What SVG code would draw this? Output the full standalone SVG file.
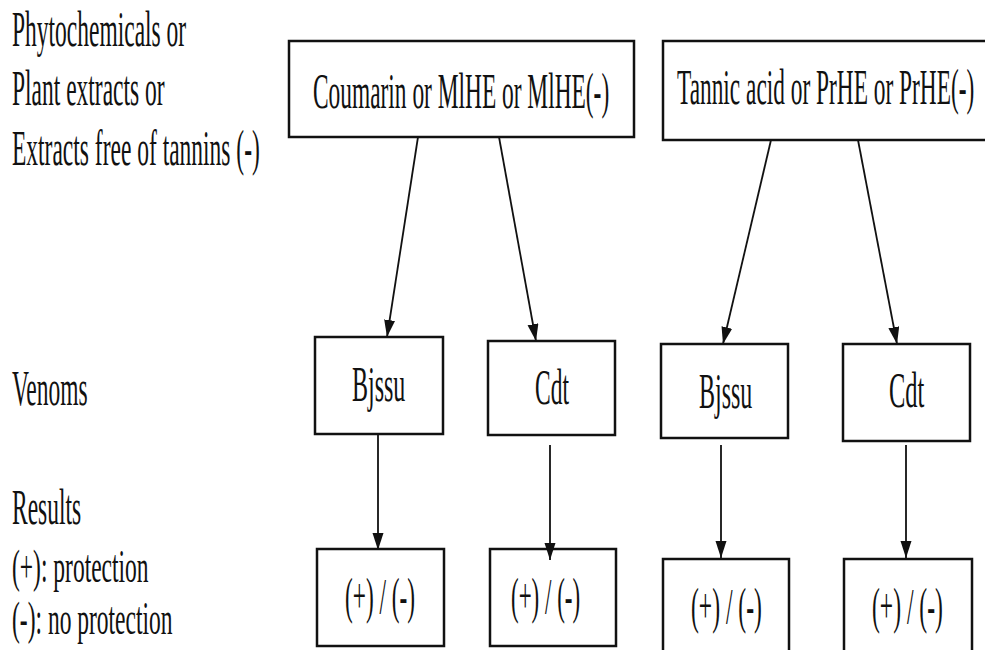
<svg xmlns="http://www.w3.org/2000/svg" width="985" height="650" viewBox="0 0 985 650">
<defs>
<style>
text{font-family:"Liberation Serif","Times New Roman",serif;font-size:50px;fill:#111;}
.box{fill:#fff;stroke:#111;stroke-width:2.5;}
.conn line{stroke:#111;stroke-width:1.8;marker-end:url(#ah);}
</style>
<marker id="ah" markerUnits="userSpaceOnUse" markerWidth="20" markerHeight="12" refX="17" refY="5.5" orient="auto">
<path d="M0,0 L17,5.5 L0,11 z" fill="#111"/>
</marker>
</defs>
<rect width="985" height="650" fill="#fff"/>
<g id="label-top">
<text transform="translate(12,46) scale(0.47,1)"><tspan x="0" y="0">Phytochemicals or</tspan><tspan x="0" y="59">Plant extracts or</tspan><tspan x="0" y="119">Extracts free of tannins (-)</tspan></text>
</g>
<g id="label-venoms">
<text transform="translate(12,405) scale(0.47,1)">Venoms</text>
</g>
<g id="label-results">
<text transform="translate(12,524) scale(0.47,1)">Results</text>
<text transform="translate(12,582) scale(0.511,1)" style="font-size:46px">(+): protection</text>
<text transform="translate(12,634) scale(0.511,1)" style="font-size:46px">(-): no protection</text>
</g>
<g id="node-coumarin">
<rect class="box" x="289" y="41" width="345" height="96"/>
<text transform="translate(313,108) scale(0.468,1)">Coumarin or MlHE or MlHE(-)</text>
</g>
<g id="node-tannic">
<rect class="box" x="663" y="41" width="340" height="99"/>
<text transform="translate(677,104) scale(0.467,1)">Tannic acid or PrHE or PrHE(-)</text>
</g>
<g id="node-bjssu1">
<rect class="box" x="315" y="337" width="128" height="97"/>
<text transform="translate(352,401) scale(0.48,1)">Bjssu</text>
</g>
<g id="node-cdt1">
<rect class="box" x="488" y="341" width="127" height="94"/>
<text transform="translate(535,404) scale(0.47,1)">Cdt</text>
</g>
<g id="node-bjssu2">
<rect class="box" x="661" y="344" width="127" height="94"/>
<text transform="translate(699,408) scale(0.48,1)">Bjssu</text>
</g>
<g id="node-cdt2">
<rect class="box" x="843" y="344" width="127" height="97"/>
<text transform="translate(889,407) scale(0.49,1)">Cdt</text>
</g>
<g id="node-res1">
<rect class="box" x="317" y="549" width="127" height="97"/>
<text transform="translate(345,613) scale(0.466,1)">(+) / (-)</text>
</g>
<g id="node-res2">
<rect class="box" x="490" y="549" width="126" height="97"/>
<text transform="translate(511,613) scale(0.46,1)">(+) / (-)</text>
</g>
<g id="node-res3">
<rect class="box" x="663" y="559" width="126" height="100"/>
<text transform="translate(691,623) scale(0.472,1)">(+) / (-)</text>
</g>
<g id="node-res4">
<rect class="box" x="844" y="559" width="128" height="100"/>
<text transform="translate(872,623) scale(0.472,1)">(+) / (-)</text>
</g>
<g id="connectors" class="conn">
<line x1="418" y1="137" x2="387" y2="337"/>
<line x1="499" y1="137" x2="536" y2="341"/>
<line x1="771" y1="140" x2="723" y2="344"/>
<line x1="858" y1="140" x2="897" y2="344"/>
<line x1="378" y1="434" x2="378" y2="550"/>
<line x1="550" y1="445" x2="550" y2="560"/>
<line x1="721" y1="445" x2="721" y2="558"/>
<line x1="906" y1="445" x2="906" y2="558"/>
</g>
</svg>
